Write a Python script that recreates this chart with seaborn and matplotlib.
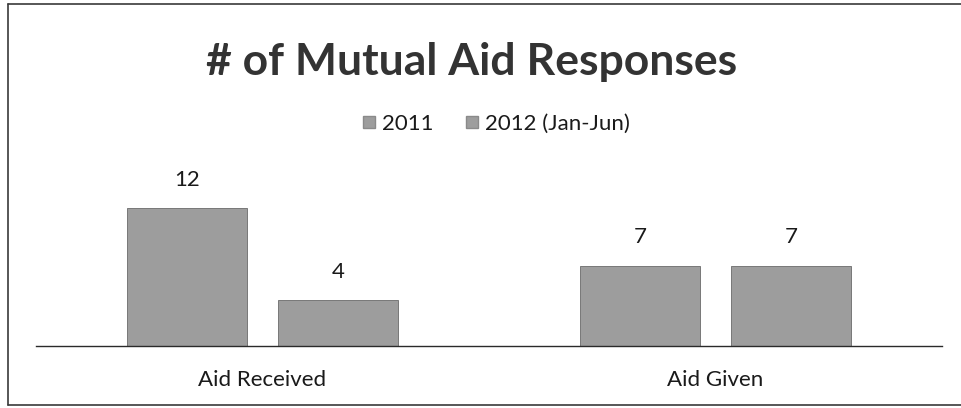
import matplotlib
matplotlib.use("Agg")
import matplotlib.pyplot as plt
from matplotlib.lines import Line2D
import seaborn as sns
import pandas as pd

categories = ["Aid Received", "Aid Given"]
series_names = ["2011", "2012 (Jan-Jun)"]
values_2011 = [12, 7]
values_2012 = [4, 7]
title_text = "# of Mutual Aid Responses"

df = pd.DataFrame({
    "category": categories * 2,
    "series": [series_names[0]] * 2 + [series_names[1]] * 2,
    "value": values_2011 + values_2012,
})

sns.set_theme(style="white")
plt.rcParams["font.family"] = ["Lato", "DejaVu Sans"]

W, H = 961, 408
fig = plt.figure(figsize=(W / 100, H / 100), dpi=100)
# axes in pixel coordinates: x 36..942, baseline at y=346
ax_left, ax_right = 36, 942
ax_bottom_px, ax_top_px = 346, 185
ax = fig.add_axes([ax_left / W, 1 - ax_bottom_px / H,
                   (ax_right - ax_left) / W, (ax_bottom_px - ax_top_px) / H])

bar_grey = "#9d9d9d"
sns.barplot(data=df, x="category", y="value", hue="series",
            palette=[bar_grey, bar_grey], width=0.665, gap=0.2,
            edgecolor="#6a6a6a", linewidth=0.6, legend=False, ax=ax)

ax.set_xlim(-0.5, 1.5)
ax.set_ylim(0, 14)
ax.set_xlabel("")
ax.set_ylabel("")
ax.set_yticks([])
ax.tick_params(axis="x", length=0, pad=17, labelsize=16, colors="#1a1a1a")
for s in ["top", "right", "left"]:
    ax.spines[s].set_visible(False)
ax.spines["bottom"].set_color("#2a2a2a")
ax.spines["bottom"].set_linewidth(1.0)

for cont in ax.containers:
    ax.bar_label(cont, padding=13, fontsize=16, color="#1a1a1a", clip_on=False)

fig.text(0.491, 1 - 62 / H, title_text, ha="center", va="center",
         fontsize=32, fontweight="bold", color="#333333")

handles = [Line2D([], [], marker="s", linestyle="", markersize=8,
                  markerfacecolor=bar_grey, markeredgecolor="#8a8a8a")
           for _ in series_names]
fig.legend(handles, series_names, loc="center", bbox_to_anchor=(495 / W, 1 - 124 / H),
           ncol=2, frameon=False, fontsize=16, handletextpad=0.2,
           columnspacing=1.3, handlelength=0.8, labelcolor="#1a1a1a")

# thin chart border (top, left, bottom)
border = dict(color="#3a3a3a", linewidth=1.2, transform=fig.transFigure)
fig.add_artist(Line2D([8 / W, 1], [1 - 4 / H, 1 - 4 / H], **border))
fig.add_artist(Line2D([8 / W, 8 / W], [1 - 4 / H, 1 - 405 / H], **border))
fig.add_artist(Line2D([8 / W, 1], [1 - 405 / H, 1 - 405 / H], **border))

fig.savefig("out.png", dpi=100)
